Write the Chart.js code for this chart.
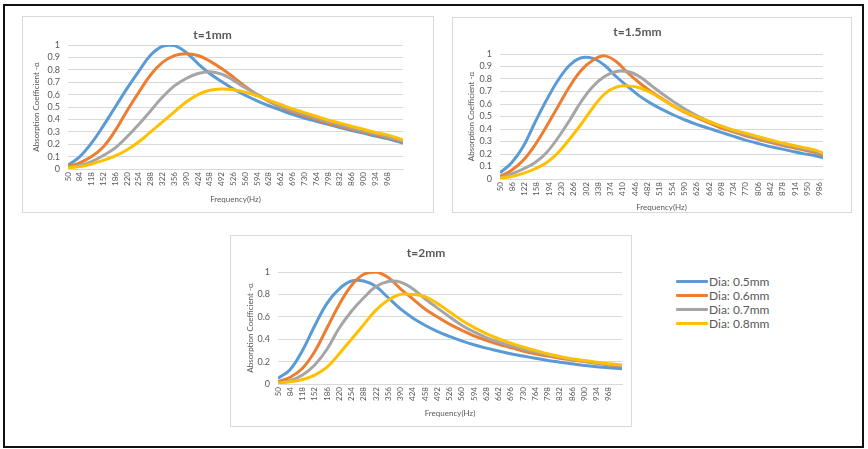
<!DOCTYPE html>
<html><head><meta charset="utf-8">
<script src="https://cdn.jsdelivr.net/npm/chart.js@4"></script>
<style>
html,body{margin:0;padding:0;background:#fff;width:868px;height:449px;overflow:hidden;font-family:Lato,sans-serif}
#frame{position:absolute;left:3px;top:4px;width:861px;height:444px;border:2px solid #111;box-sizing:border-box}
.panel{position:absolute}
.panel canvas{position:absolute;left:0;top:0}
.pborder{position:absolute;left:0;top:0;right:0;bottom:0;border:1px solid #d9d9d9;pointer-events:none}
#legend{position:absolute;left:676px;top:275px}
.row{height:13.8px;display:flex;align-items:center;font-size:12px;color:#595959;white-space:nowrap}
.sw{width:32px;height:3px;margin-right:1px;border-radius:1px}
</style>
</head><body>
<div id="frame"></div>
<div class="panel" id="p1"><canvas id="c1"></canvas><div class="pborder"></div></div>
<div class="panel" id="p2"><canvas id="c2"></canvas><div class="pborder"></div></div>
<div class="panel" id="p3"><canvas id="c3"></canvas><div class="pborder"></div></div>
<div id="legend"></div>
<script>
// ---------- data ----------
const seriesNames = ['Dia: 0.5mm','Dia: 0.6mm','Dia: 0.7mm','Dia: 0.8mm'];
const titles = ['t=1mm','t=1.5mm','t=2mm'];

const freq1 = [50,84,118,152,186,220,254,288,322,356,390,424,458,492,526,560,594,628,662,696,730,764,798,832,866,900,934,968,1014];
const freq2 = [50,84,118,152,186,220,254,288,322,356,390,424,458,492,526,560,594,628,662,696,730,764,798,832,866,900,934,968,996];
const freq3 = [50,84,118,152,186,220,254,288,322,356,390,424,458,492,526,560,594,628,662,696,730,764,798,832,866,900,934,968,1005];

const xTicks1 = [50,84,118,152,186,220,254,288,322,356,390,424,458,492,526,560,594,628,662,696,730,764,798,832,866,900,934,968];
const xTicks2 = [50,86,122,158,194,230,266,302,338,374,410,446,482,518,554,590,626,662,698,734,770,806,842,878,914,950,986];
const xTicks3 = [50,84,118,152,186,220,254,288,322,356,390,424,458,492,526,560,594,628,662,696,730,764,798,832,866,900,934,968];

const yTicksFine   = [0,0.1,0.2,0.3,0.4,0.5,0.6,0.7,0.8,0.9,1];
const yTicksCoarse = [0,0.2,0.4,0.6,0.8,1];

// t = 1mm
const blue1   = [0.03,0.10,0.21,0.35,0.50,0.65,0.79,0.92,0.99,0.995,0.94,0.85,0.77,0.705,0.645,0.595,0.55,0.51,0.475,0.44,0.41,0.385,0.36,0.335,0.31,0.29,0.265,0.245,0.21];
const orange1 = [0.02,0.05,0.10,0.18,0.31,0.47,0.62,0.76,0.86,0.915,0.93,0.915,0.87,0.81,0.74,0.665,0.60,0.545,0.50,0.46,0.43,0.40,0.37,0.345,0.32,0.30,0.275,0.255,0.22];
const gray1   = [0.01,0.03,0.06,0.11,0.17,0.26,0.36,0.47,0.58,0.67,0.73,0.77,0.785,0.765,0.715,0.655,0.60,0.55,0.505,0.47,0.44,0.41,0.38,0.355,0.33,0.305,0.285,0.26,0.225];
const yellow1 = [0.01,0.02,0.04,0.07,0.105,0.155,0.22,0.30,0.38,0.46,0.54,0.60,0.635,0.645,0.64,0.62,0.59,0.555,0.52,0.485,0.455,0.425,0.395,0.37,0.345,0.32,0.295,0.275,0.235];

// t = 1.5mm
const blue2   = [0.05,0.13,0.26,0.45,0.63,0.79,0.91,0.97,0.965,0.91,0.82,0.74,0.665,0.605,0.555,0.51,0.47,0.435,0.405,0.375,0.345,0.315,0.29,0.265,0.245,0.225,0.205,0.19,0.17];
const orange2 = [0.02,0.07,0.15,0.27,0.42,0.58,0.74,0.87,0.95,0.985,0.94,0.85,0.77,0.70,0.64,0.58,0.53,0.49,0.45,0.41,0.38,0.35,0.325,0.30,0.275,0.255,0.235,0.215,0.19];
const gray2   = [0.01,0.04,0.08,0.13,0.21,0.33,0.47,0.62,0.74,0.82,0.86,0.86,0.82,0.75,0.68,0.615,0.555,0.505,0.46,0.425,0.39,0.36,0.335,0.31,0.285,0.265,0.245,0.225,0.20];
const yellow2 = [0.005,0.02,0.045,0.08,0.13,0.21,0.32,0.44,0.57,0.68,0.735,0.745,0.73,0.69,0.635,0.58,0.535,0.495,0.46,0.425,0.395,0.37,0.345,0.32,0.295,0.275,0.255,0.235,0.21];

// t = 2mm
const blue3   = [0.05,0.13,0.30,0.52,0.72,0.85,0.92,0.92,0.87,0.77,0.67,0.59,0.525,0.47,0.425,0.385,0.35,0.32,0.295,0.27,0.25,0.23,0.21,0.195,0.18,0.165,0.155,0.145,0.135];
const orange3 = [0.02,0.06,0.14,0.29,0.50,0.71,0.88,0.98,1.00,0.95,0.85,0.76,0.67,0.60,0.535,0.48,0.43,0.39,0.355,0.325,0.295,0.27,0.25,0.23,0.215,0.20,0.185,0.17,0.155];
const gray3   = [0.01,0.03,0.08,0.17,0.31,0.50,0.65,0.77,0.87,0.915,0.91,0.85,0.76,0.68,0.60,0.525,0.465,0.415,0.375,0.34,0.31,0.285,0.26,0.24,0.22,0.205,0.19,0.175,0.165];
const yellow3 = [0.005,0.02,0.04,0.08,0.15,0.27,0.40,0.53,0.66,0.75,0.80,0.80,0.78,0.72,0.645,0.57,0.505,0.45,0.405,0.365,0.33,0.30,0.27,0.245,0.225,0.21,0.195,0.18,0.17];

// ---------- styling / layout ----------
const colors = ['#5B9BD5','#ED7D31','#A5A5A5','#FFC000'];
const TXT = '#595959';
Chart.defaults.font.family = 'Lato, sans-serif';
Chart.defaults.color = TXT;

const layouts = [
  {id:'c1', pid:'p1', left:22, top:16, w:412, h:197, plotL:68, plotR:403, plotT:45, plotB:169, titleCY:35, xTitleCY:199, yTitleCX:36, xmax:1014},
  {id:'c2', pid:'p2', left:452, top:17, w:400, h:196, plotL:500, plotR:823, plotT:54, plotB:179, titleCY:32, xTitleCY:207, yTitleCX:471, xmax:996},
  {id:'c3', pid:'p3', left:230, top:235, w:402, h:192, plotL:278, plotR:622, plotT:272, plotB:384, titleCY:253, xTitleCY:413, yTitleCX:250, xmax:1005}
];
const freqs = [freq1, freq2, freq3];
const xTicks = [xTicks1, xTicks2, xTicks3];
const yTicks = [yTicksFine, yTicksFine, yTicksCoarse];
const seriesData = [[blue1,orange1,gray1,yellow1],[blue2,orange2,gray2,yellow2],[blue3,orange3,gray3,yellow3]];

layouts.forEach((L, k) => {
  const p = document.getElementById(L.pid);
  p.style.left = L.left + 'px'; p.style.top = L.top + 'px';
  p.style.width = L.w + 'px'; p.style.height = L.h + 'px';
  const cv = document.getElementById(L.id);
  cv.width = L.w; cv.height = L.h;
  cv.style.width = L.w + 'px'; cv.style.height = L.h + 'px';

  const tFont = 12, tLH = tFont * 1.2;
  const aFont = 8, aLH = aFont * 1.2;
  const titlePadTop = L.titleCY - L.top - tLH / 2;
  const titlePadBot = (L.plotT - L.top) - titlePadTop - tLH;
  const yWidth = L.plotL - L.left;
  const xHeight = (L.top + L.h) - L.plotB;
  const padRight = (L.left + L.w) - L.plotR;
  const xTitlePadBot = (L.top + L.h) - L.xTitleCY - aLH / 2;
  const yTitlePadTop = L.yTitleCX - L.left - aLH / 2;

  const datasets = seriesData[k].map((vals, i) => ({
    label: seriesNames[i],
    data: vals.map((v, j) => ({x: freqs[k][j], y: v})),
    borderColor: colors[i],
    backgroundColor: colors[i],
    borderWidth: 3,
    pointRadius: 0,
    fill: false,
    tension: 0.4,
    order: 3 - i
  }));

  new Chart(cv, {
    type: 'line',
    data: {datasets},
    options: {
      responsive: false,
      animation: false,
      devicePixelRatio: 1,
      layout: {padding: {left: 0, right: padRight, top: 0, bottom: 0}},
      plugins: {
        legend: {display: false},
        tooltip: {enabled: false},
        title: {display: true, text: titles[k], color: TXT,
          font: {size: tFont, weight: 'bold'},
          padding: {top: titlePadTop, bottom: titlePadBot}}
      },
      scales: {
        x: {
          type: 'linear', min: 50, max: L.xmax,
          afterBuildTicks: s => { s.ticks = xTicks[k].map(v => ({value: v})); },
          afterFit: s => { s.height = xHeight; },
          grid: {display: false, drawTicks: false},
          border: {display: true, color: '#d9d9d9'},
          ticks: {autoSkip: false, maxRotation: 90, minRotation: 90, padding: 3,
            font: {size: 8}, color: TXT, callback: v => String(v)},
          title: {display: true, text: 'Frequency(Hz)', color: TXT,
            font: {size: aFont}, padding: {top: 0, bottom: xTitlePadBot}}
        },
        y: {
          min: 0, max: 1,
          afterBuildTicks: s => { s.ticks = yTicks[k].map(v => ({value: v})); },
          afterFit: s => { s.width = yWidth; },
          grid: {color: '#d9d9d9', drawTicks: false},
          border: {display: false},
          ticks: {autoSkip: false, padding: 8, font: {size: 9}, color: TXT,
            callback: v => String(Math.round(v * 10) / 10)},
          title: {display: true, text: 'Absorption Coefficient -α', color: TXT,
            font: {size: aFont}, padding: {top: yTitlePadTop, bottom: 0}}
        }
      }
    }
  });
});

// HTML legend
const lg = document.getElementById('legend');
seriesNames.forEach((n, i) => {
  const r = document.createElement('div'); r.className = 'row';
  const s = document.createElement('span'); s.className = 'sw'; s.style.background = colors[i];
  const t = document.createElement('span'); t.textContent = n;
  r.appendChild(s); r.appendChild(t); lg.appendChild(r);
});
</script>
</body></html>
